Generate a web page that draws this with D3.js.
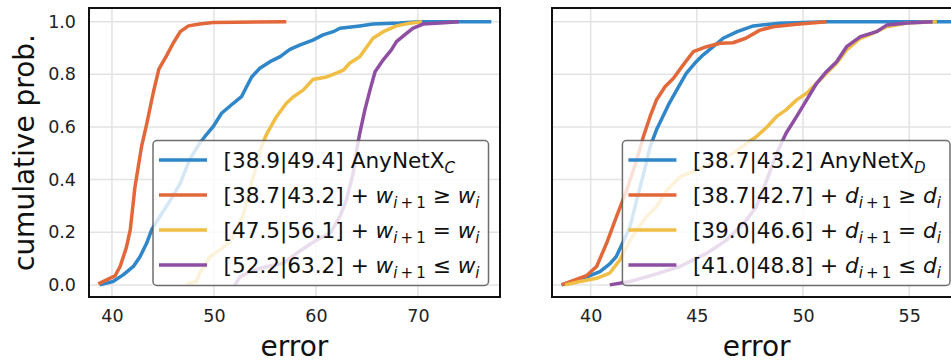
<!DOCTYPE html>
<html>
<head>
<meta charset="utf-8">
<script src="https://cdn.jsdelivr.net/npm/d3@7"></script>
<style>
  html, body { margin: 0; padding: 0; background: #fff; }
  svg { display: block; font-family: "DejaVu Sans", sans-serif; }
</style>
</head>
<body>
<svg id="chart" width="951" height="362"></svg>
<script>
// ---------------- data ----------------
const yTickValues = [0, 0.2, 0.4, 0.6, 0.8, 1.0];
const leftTickValues = [40, 50, 60, 70];
const rightTickValues = [40, 45, 50, 55];
const seriesColors = ["#2f86c8", "#e2683a", "#f0be44", "#8e4fa3"];

const leftNames = [
  { range: "[38.9|49.4] ", kind: "base", sub: "C" },
  { range: "[38.7|43.2] + ", kind: "rel", v: "w", op: "≥" },
  { range: "[47.5|56.1] + ", kind: "rel", v: "w", op: "=" },
  { range: "[52.2|63.2] + ", kind: "rel", v: "w", op: "≤" }
];
const rightNames = [
  { range: "[38.7|43.2] ", kind: "base", sub: "D" },
  { range: "[38.7|42.7] + ", kind: "rel", v: "d", op: "≥" },
  { range: "[39.0|46.6] + ", kind: "rel", v: "d", op: "=" },
  { range: "[41.0|48.8] + ", kind: "rel", v: "d", op: "≤" }
];

// Left panel: [error, cumulative prob]
const leftAnyNetXC = [[38.8,0],[40.1,0.013],[41.1,0.038],[42.1,0.07],[42.75,0.107],[43.4,0.158],[43.9,0.21],[44.7,0.26],[45.7,0.32],[46.7,0.386],[47.6,0.475],[48.6,0.538],[49.1,0.563],[49.9,0.6],[50.75,0.652],[51.9,0.69],[52.7,0.715],[53.2,0.753],[53.7,0.79],[54.5,0.823],[55.5,0.848],[56.5,0.867],[57.45,0.895],[58.4,0.911],[59.7,0.93],[60.7,0.95],[61.7,0.962],[62.35,0.975],[64.3,0.984],[65.6,0.991],[68.2,0.995],[70.1,1.0],[77.2,1.0]];
const leftWInc = [[38.66,0.004],[40.3,0.034],[40.8,0.07],[41.4,0.14],[41.8,0.21],[42.25,0.37],[42.9,0.525],[43.4,0.61],[44.05,0.73],[44.6,0.82],[45.4,0.874],[46.0,0.918],[46.7,0.962],[47.5,0.984],[48.6,0.991],[49.9,0.997],[57.1,1.0]];
const leftWEq = [[47.3,0.004],[48.3,0.013],[48.6,0.045],[49.6,0.107],[50.6,0.133],[51.6,0.165],[52.2,0.21],[52.9,0.27],[53.4,0.35],[54.0,0.43],[54.6,0.52],[55.2,0.576],[56.15,0.64],[57.1,0.69],[57.8,0.715],[58.75,0.74],[59.7,0.78],[61.05,0.79],[61.7,0.8],[62.7,0.816],[63.3,0.842],[64.3,0.867],[65.0,0.905],[65.6,0.937],[66.6,0.962],[67.9,0.984],[69.2,0.994],[70.4,1.0]];
const leftWDec = [[52.05,0],[52.55,0.03],[53.5,0.05],[55.2,0.07],[56.8,0.082],[58.1,0.12],[59.1,0.146],[60.05,0.17],[61.4,0.196],[62.35,0.26],[63.0,0.323],[63.65,0.424],[64.0,0.513],[64.3,0.576],[64.8,0.665],[65.3,0.74],[65.8,0.81],[66.6,0.855],[67.4,0.893],[67.9,0.924],[68.7,0.95],[69.5,0.975],[70.5,0.991],[72.2,0.995],[74.0,1.0]];

// Right panel: [error, cumulative prob]
const rightAnyNetXD = [[38.63,0],[39.8,0.03],[40.44,0.05],[40.9,0.08],[41.2,0.107],[41.5,0.158],[41.85,0.22],[42.17,0.323],[42.5,0.424],[42.8,0.525],[43.1,0.589],[43.4,0.64],[43.7,0.69],[44.05,0.74],[44.5,0.804],[44.9,0.842],[45.3,0.874],[45.77,0.905],[46.24,0.937],[46.9,0.962],[47.66,0.984],[48.9,0.994],[50.0,0.997],[51.1,1.0],[58.0,1.0]];
const rightDInc = [[38.63,0],[39.8,0.035],[40.28,0.07],[40.75,0.158],[41.22,0.26],[41.7,0.36],[42.17,0.475],[42.48,0.563],[42.8,0.64],[43.1,0.703],[43.5,0.753],[43.9,0.785],[44.36,0.836],[44.83,0.886],[45.46,0.905],[46.1,0.918],[46.7,0.92],[47.3,0.937],[47.97,0.968],[48.6,0.981],[49.7,0.99],[51.1,1.0]];
const rightDEq = [[38.8,0],[39.5,0.013],[40.28,0.025],[40.9,0.045],[41.38,0.095],[41.7,0.146],[42.17,0.21],[42.64,0.26],[43.1,0.297],[43.58,0.36],[44.2,0.41],[45.0,0.437],[45.77,0.462],[46.7,0.5],[47.34,0.538],[47.8,0.563],[48.3,0.6],[48.76,0.64],[49.2,0.665],[49.7,0.703],[50.17,0.728],[50.64,0.766],[51.1,0.804],[51.58,0.842],[52.05,0.893],[52.7,0.937],[53.3,0.956],[53.94,0.981],[54.9,0.995],[56.3,1.0]];
const rightDDec = [[40.9,0],[41.85,0.013],[42.95,0.038],[44.2,0.07],[45.46,0.12],[46.4,0.17],[47.34,0.247],[47.8,0.297],[48.3,0.4],[48.76,0.5],[49.2,0.576],[49.7,0.64],[50.17,0.703],[50.64,0.766],[51.1,0.81],[51.58,0.848],[52.05,0.905],[52.7,0.943],[53.46,0.962],[53.94,0.987],[54.9,0.995],[56.1,1.0]];

// ---------------- layout ----------------
const svg = d3.select("#chart");
const TOP = 8, BOTTOM = 297;
const y = d3.scaleLinear().domain([-0.046, 1.052]).range([BOTTOM, TOP]);

const panels = [
  { left: 89, right: 500, domain: [37.75, 78.05], ticks: leftTickValues,
    series: [leftAnyNetXC, leftWInc, leftWEq, leftWDec], names: leftNames, yLabels: true },
  { left: 552, right: 961.5, domain: [38.18, 57.46], ticks: rightTickValues,
    series: [rightAnyNetXD, rightDInc, rightDEq, rightDDec], names: rightNames, yLabels: false }
];

const LEG_FS = 21.6;
const SUB_FS = LEG_FS * 0.7;

panels.forEach((p, pi) => {
  const x = d3.scaleLinear().domain(p.domain).range([p.left, p.right]);
  const g = svg.append("g");

  const clipId = "clip" + pi;
  svg.append("clipPath").attr("id", clipId).append("rect")
    .attr("x", p.left).attr("y", TOP).attr("width", p.right - p.left).attr("height", BOTTOM - TOP);

  // grid
  g.append("g").selectAll("line").data(p.ticks).join("line")
    .attr("x1", d => x(d)).attr("x2", d => x(d)).attr("y1", TOP).attr("y2", BOTTOM)
    .attr("stroke", "#e3e3e3").attr("stroke-width", 1.5);
  g.append("g").selectAll("line").data(yTickValues).join("line")
    .attr("x1", p.left).attr("x2", p.right).attr("y1", d => y(d)).attr("y2", d => y(d))
    .attr("stroke", "#e3e3e3").attr("stroke-width", 1.5);

  // axes (labels only, no tick marks)
  const xAxis = d3.axisBottom(x).tickValues(p.ticks).tickSize(0).tickPadding(13).tickFormat(d3.format("d"));
  const xg = g.append("g").attr("transform", `translate(0,${BOTTOM})`).call(xAxis);
  xg.select(".domain").remove();
  xg.selectAll("text").attr("font-size", 17.5).attr("font-family", "DejaVu Sans").attr("fill", "#222");

  if (p.yLabels) {
    const yAxis = d3.axisLeft(y).tickValues(yTickValues).tickSize(0).tickPadding(13).tickFormat(d3.format(".1f"));
    const yg = g.append("g").attr("transform", `translate(${p.left},0)`).call(yAxis);
    yg.select(".domain").remove();
    yg.selectAll("text").attr("font-size", 17.5).attr("font-family", "DejaVu Sans").attr("fill", "#222");
    svg.append("text").attr("transform", `translate(34,${(TOP + BOTTOM) / 2}) rotate(-90)`)
      .attr("text-anchor", "middle").attr("font-size", 28).attr("fill", "#111").text("cumulative prob.");
  }
  svg.append("text").attr("x", (p.left + p.right) / 2).attr("y", 356)
    .attr("text-anchor", "middle").attr("font-size", 28).attr("fill", "#111").text("error");

  // curves
  const line = d3.line().x(d => x(d[0])).y(d => y(d[1]));
  const cg = g.append("g").attr("clip-path", `url(#${clipId})`);
  p.series.forEach((s, i) => {
    cg.append("path").datum(s).attr("d", line).attr("fill", "none")
      .attr("stroke", seriesColors[i]).attr("stroke-width", 3.5)
      .attr("stroke-linejoin", "round").attr("stroke-linecap", "butt");
  });

  // legend
  const lg = g.append("g");
  const box = lg.append("rect");
  const rowY = [0, 1, 2, 3].map(k => k * 35);
  const texts = [];
  p.names.forEach((n, i) => {
    const t = lg.append("text").attr("font-size", LEG_FS).attr("fill", "#111");
    t.append("tspan").text(n.range);
    if (n.kind === "base") {
      t.append("tspan").text("AnyNetX");
      t.append("tspan").attr("font-size", SUB_FS).attr("font-style", "italic").attr("dy", 5).text(n.sub);
    } else {
      t.append("tspan").attr("font-style", "italic").text(n.v);
      t.append("tspan").attr("font-size", SUB_FS).attr("font-style", "italic").attr("dy", 5).text("i");
      t.append("tspan").attr("font-size", SUB_FS).text("\u2009+\u20091");
      t.append("tspan").attr("dy", -5).text(" " + n.op + " ");
      t.append("tspan").attr("font-style", "italic").text(n.v);
      t.append("tspan").attr("font-size", SUB_FS).attr("font-style", "italic").attr("dy", 5).text("i");
    }
    texts.push(t);
  });
  const maxLen = d3.max(texts, t => t.node().getComputedTextLength());
  const boxRight = p.right - 11.5;
  const boxBottom = BOTTOM - 11.5;
  const boxTop = boxBottom - 145;
  const textStart = boxRight - 9 - maxLen;
  const boxLeft = textStart - 70.5;
  box.attr("x", boxLeft).attr("y", boxTop).attr("width", boxRight - boxLeft).attr("height", boxBottom - boxTop)
    .attr("rx", 4).attr("fill", "#fff").attr("fill-opacity", 0.8)
    .attr("stroke", "#555").attr("stroke-opacity", 0.85).attr("stroke-width", 1.5);
  const firstRow = boxTop + 19.5;
  texts.forEach((t, i) => {
    t.attr("x", textStart).attr("y", firstRow + rowY[i] + 8);
    lg.append("line").attr("x1", boxLeft + 6).attr("x2", boxLeft + 54)
      .attr("y1", firstRow + rowY[i]).attr("y2", firstRow + rowY[i])
      .attr("stroke", seriesColors[i]).attr("stroke-width", 3.5);
  });

  // frame
  g.append("rect").attr("x", p.left).attr("y", TOP).attr("width", p.right - p.left).attr("height", BOTTOM - TOP)
    .attr("fill", "none").attr("stroke", "#111").attr("stroke-width", 2);
});
</script>
</body>
</html>
